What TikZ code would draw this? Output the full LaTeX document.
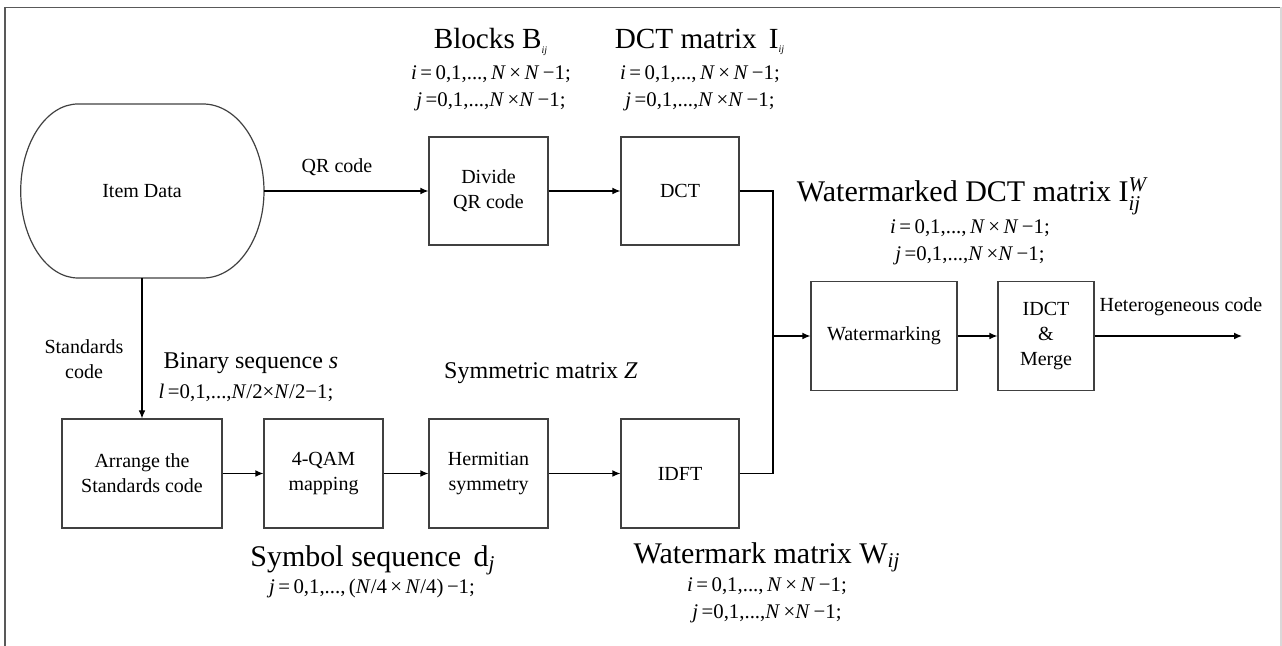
\documentclass[tikz,border=0pt]{standalone}
\usepackage{amsmath}
\usepackage{fontspec}
\setmainfont{Liberation Serif}
\usepackage{tikz}
\usetikzlibrary{arrows.meta}
\tikzset{>={Latex[length=4pt,width=3.4pt]}}
\tikzset{
  blk/.style={draw=black!75, line width=0.6pt, rectangle, align=center, inner sep=0pt,
    font=\fontsize{10}{12.5}\selectfont},
  ttl/.style={font=\fontsize{14.6}{18}\selectfont, inner sep=0pt},
  sub/.style={font=\fontsize{12}{14}\selectfont, inner sep=0pt},
  idx/.style={align=center, inner sep=0pt, font=\fontsize{10.4}{13.5}\selectfont},
  lbl/.style={align=center, inner sep=0pt, font=\fontsize{10}{12.5}\selectfont}
}
\newcommand{\ilinei}{\textit{i}\,=\,0,1,...,\,\textit{N}\,×\,\textit{N}\,−1;}
\newcommand{\ilinej}{\textit{j}\,=0,1,...,\textit{N}\,×\textit{N}\,−1;}

\begin{document}
\begin{tikzpicture}[x=0.5pt,y=-0.5pt]
  \useasboundingbox (0,0) rectangle (1282,646);

  % frame
  \draw[black!65, line width=0.8pt] (5,646) -- (5,7.5) -- (1282,7.5);
  \draw[black!15, line width=0.6pt] (1281,7.5) -- (1281,646);

  % item data
  \node[minimum width=121.5pt, minimum height=87pt, inner sep=0pt,
        font=\fontsize{10}{12.5}\selectfont] (item) at (142,191) {Item Data};
  \draw[black!75, line width=0.6pt] (78,104) -- (203,104)
    .. controls (236.7,104) and (264,143) .. (264,191)
    .. controls (264,239) and (236.7,278) .. (203,278) -- (78,278)
    .. controls (46.4,278) and (20.7,239) .. (20.7,191)
    .. controls (20.7,143) and (46.4,104) .. (78,104) -- cycle;

  % upper row
  \node[blk, minimum width=59.5pt, minimum height=54pt] (divide) at (488.5,191) {Divide\\QR code};
  \node[blk, minimum width=59pt, minimum height=54pt] (dct) at (680,191) {DCT};

  % lower row
  \node[blk, minimum width=80pt, minimum height=54.5pt] (arrange) at (142,473.5) {Arrange the\\Standards code};
  \node[blk, minimum width=59.5pt, minimum height=54.5pt] (qam) at (323.5,473.5) {4-QAM\\mapping};
  \node[blk, minimum width=59.5pt, minimum height=54.5pt] (herm) at (488.5,473.5) {Hermitian\\symmetry};
  \node[blk, minimum width=59pt, minimum height=54.5pt] (idft) at (680,473.5) {IDFT};

  % right part
  \node[blk, minimum width=73pt, minimum height=54.5pt] (wm) at (884,336) {Watermarking};
  \node[blk, minimum width=48pt, minimum height=54.5pt] (idct) at (1046,336) {IDCT\\\&\\Merge};

  % titles
  \node[ttl] (blkttl) at (491,42) {Blocks B\textsubscript{\itshape\tiny ij}};
  \node[idx] (blkidx) at (491,88.5) {\ilinei\\\ilinej};
  \node[ttl] (dctttl) at (700,42) {DCT matrix\, I\textsubscript{\itshape\tiny ij}};
  \node[idx] (dctidx) at (700,88.5) {\ilinei\\\ilinej};
  \node[ttl, font=\fontsize{15}{18}\selectfont] (wdctttl) at (972,196) {Watermarked DCT matrix I$^{\textit{W}}_{\textit{ij}}$};
  \node[idx] (wdctidx) at (970,242.5) {\ilinei\\\ilinej};
  \node[sub] (binttl) at (251,363) {Binary sequence \textit{s}};
  \node[idx] (binidx) at (246,393) {\textit{l}\,=0,1,...,\textit{N}/2×\textit{N}/2−1;};
  \node[sub] (symttl) at (541,373) {Symmetric matrix \textit{Z}};
  \node[ttl, font=\fontsize{15}{18}\selectfont] (seqttl) at (373,560) {Symbol sequence\, d$_{\textit{j}}$};
  \node[idx] (seqidx) at (372,589) {\textit{j}\,=\,0,1,...,\,(\textit{N}/4\,×\,\textit{N}/4)\,−1;};
  \node[ttl, font=\fontsize{15}{18}\selectfont] (wmttl) at (767,557) {Watermark matrix W$_{\textit{ij}}$};
  \node[idx] (wmidx) at (767,600) {\ilinei\\\ilinej};

  % connectors
  \coordinate (jn) at (773,336);
  \coordinate (out) at (1242,336);
  \draw[->, line width=0.6pt] (item.east) -- (divide.west);
  \node[lbl] (qrlbl) at (337,167) {QR code};
  \draw[->, line width=0.6pt] (divide.east) -- (dct.west);
  \draw[->, line width=0.6pt] (item.south) -- (arrange.north);
  \node[lbl] (stdlbl) at (84,359.5) {Standards\\code};
  \draw[->, line width=0.6pt] (arrange.east) -- (qam.west);
  \draw[->, line width=0.6pt] (qam.east) -- (herm.west);
  \draw[->, line width=0.6pt] (herm.east) -- (idft.west);
  \draw[line width=0.6pt] (dct.east) -| (jn);
  \draw[line width=0.6pt] (idft.east) -| (jn);
  \draw[->, line width=0.6pt] (jn) -- (wm.west);
  \draw[->, line width=0.6pt] (wm.east) -- (idct.west);
  \draw[->, line width=0.6pt] (idct.east) -- (out);
  \node[lbl] (hetlbl) at (1181,307) {Heterogeneous code};

\end{tikzpicture}
\end{document}
